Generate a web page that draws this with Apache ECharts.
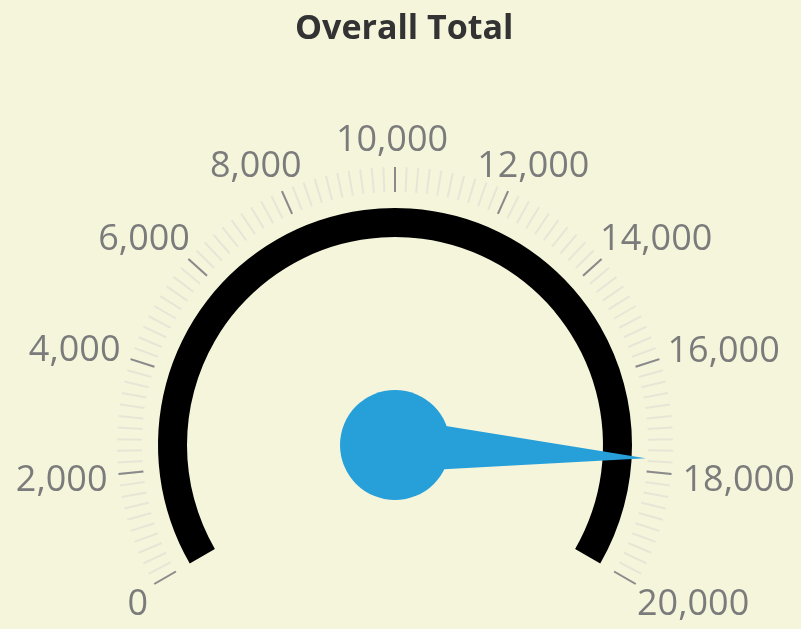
<!DOCTYPE html>
<html>
<head>
<meta charset="utf-8">
<script src="https://cdn.jsdelivr.net/npm/echarts@6/dist/echarts.min.js"></script>
<style>
  html, body { margin: 0; padding: 0; background: #f5f5dc; }
  #main { width: 801px; height: 629px; }
</style>
</head>
<body>
<div id="main"></div>
<script>
// gauge scale
const gaugeMin = 0;
const gaugeMax = 20000;
const tickStep = 2000;
const tickLabels = ['0', '2,000', '4,000', '6,000', '8,000', '10,000', '12,000', '14,000', '16,000', '18,000', '20,000'];
// value shown by the needle
const gaugeNames = ['Overall Total'];
const gaugeValues = [17750];

const center = [395, 445];
const startAngle = 210;
const endAngle = -30;
const sweep = startAngle - endAngle;
const labelFont = '"Open Sans", "Noto Sans", sans-serif';

// small nudges so the labels sit like the original (padding: top, right, bottom, left)
const labelPad = [
  [3, 8, 0, 0], [14, 13, 0, 0], [0, 12, 18, 0], [0, 0, 2, 0], [0, 54, 13, 0],
  [0, 6, 16, 0],
  [0, 0, 13, 52], [0, 0, 2, 0], [0, 0, 16, 10], [14, 0, 0, 13], [3, 0, 0, 3]
];
const rich = {};
labelPad.forEach(function (p, i) {
  rich['t' + i] = { color: '#7b7b7b', fontSize: 36, lineHeight: 40, fontFamily: labelFont, padding: p };
});

const chart = echarts.init(document.getElementById('main'));

chart.setOption({
  backgroundColor: '#f5f5dc',
  title: {
    text: gaugeNames[0],
    left: 290,
    top: 7,
    textStyle: { color: '#333', fontSize: 34, fontWeight: 'bold', fontFamily: labelFont }
  },
  // polar axis only used to put the tick labels outside the dial
  polar: { center: center, radius: 400 },
  angleAxis: {
    type: 'value',
    min: gaugeMin,
    max: gaugeMin + (gaugeMax - gaugeMin) * 360 / sweep,
    interval: tickStep,
    startAngle: startAngle,
    clockwise: true,
    axisLine: { show: false },
    axisTick: { show: false },
    splitLine: { show: false },
    axisLabel: {
      margin: -124,
      color: '#7b7b7b',
      fontSize: 36,
      fontFamily: labelFont,
      rich: rich,
      formatter: function (v) {
        if (v > gaugeMax) return '';
        const i = Math.round((v - gaugeMin) / tickStep);
        return '{t' + i + '|' + tickLabels[i] + '}';
      }
    }
  },
  radiusAxis: { show: false },
  series: [
    {
      // minor ticks, under the major ones
      type: 'gauge',
      center: center,
      radius: 237,
      startAngle: startAngle,
      endAngle: endAngle,
      min: gaugeMin,
      max: gaugeMax,
      splitNumber: tickLabels.length - 1,
      axisLine: { lineStyle: { width: 29, color: [[1, 'rgba(0,0,0,0)']] } },
      splitLine: { show: false },
      axisTick: { distance: -70, length: 25, splitNumber: 10, lineStyle: { color: '#e6e6d6', width: 2 } },
      axisLabel: { show: false },
      pointer: { show: false },
      anchor: { show: false },
      title: { show: false },
      detail: { show: false },
      data: [{ value: gaugeValues[0], name: gaugeNames[0] }]
    },
    {
      type: 'gauge',
      center: center,
      radius: 237,
      startAngle: startAngle,
      endAngle: endAngle,
      min: gaugeMin,
      max: gaugeMax,
      splitNumber: tickLabels.length - 1,
      axisLine: { lineStyle: { width: 29, color: [[1, '#000']] } },
      splitLine: { distance: -70, length: 25, lineStyle: { color: '#8a8a8a', width: 2 } },
      axisTick: { show: false },
      axisLabel: { show: false },
      pointer: {
        icon: 'path://M50,0 L100,100 L0,100 Z',
        length: 251,
        width: 54,
        offsetCenter: [0, 0],
        itemStyle: { color: '#27a0da' }
      },
      anchor: { show: true, showAbove: true, size: 110, itemStyle: { color: '#27a0da' } },
      title: { show: false },
      detail: { show: false },
      animation: false,
      data: [{ value: gaugeValues[0], name: gaugeNames[0] }]
    }
  ]
});
</script>
</body>
</html>
